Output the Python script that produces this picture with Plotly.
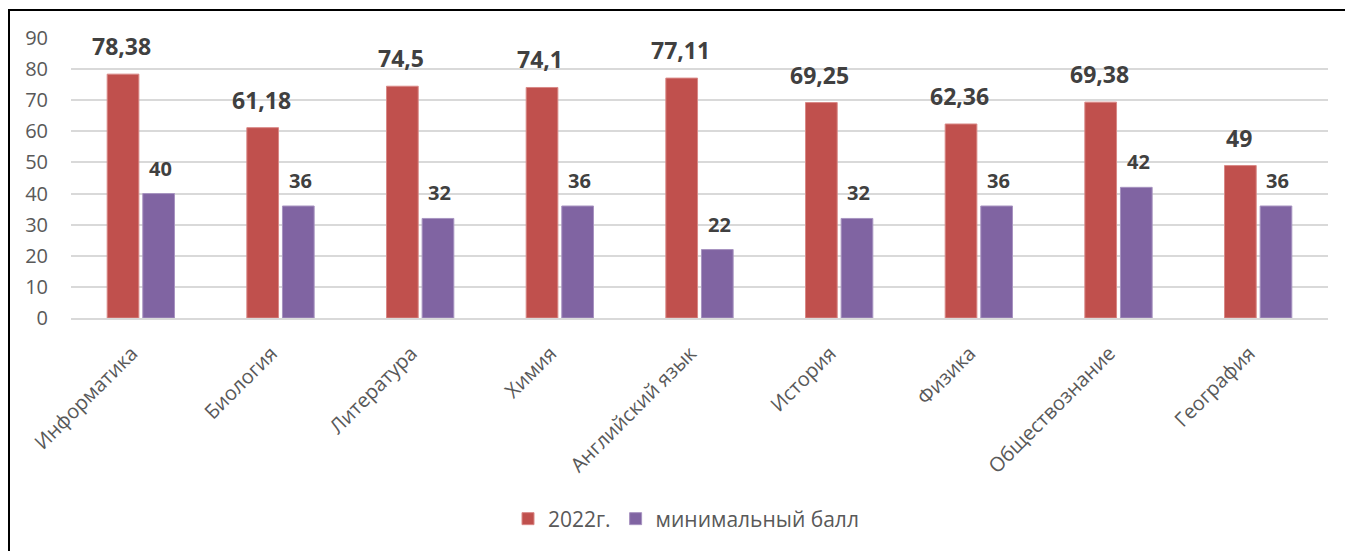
import plotly.graph_objects as go

categories = ["Информатика", "Биология", "Литература", "Химия", "Английский язык",
              "История", "Физика", "Обществознание", "География"]
scores_2022 = [78.38, 61.18, 74.5, 74.1, 77.11, 69.25, 62.36, 69.38, 49]
min_scores = [40, 36, 32, 36, 22, 32, 36, 42, 36]
y_ticks = [0, 10, 20, 30, 40, 50, 60, 70, 80, 90]

RED = "#C0504D"
PURPLE = "#8064A2"
FONT = "Open Sans"

def fmt(v):
    return f"{v:g}".replace(".", ",")

fig = go.Figure()
fig.add_trace(go.Bar(x=categories, y=scores_2022, name="2022г.",
                     marker=dict(color=RED, line=dict(color="#D98886", width=1))))
fig.add_trace(go.Bar(x=categories, y=min_scores, name="минимальный балл",
                     marker=dict(color=PURPLE, line=dict(color="#A793C0", width=1))))

for c, v in zip(categories, scores_2022):
    fig.add_annotation(x=c, y=v, text=fmt(v), showarrow=False, xshift=-19.5,
                       yanchor="bottom", yshift=10,
                       font=dict(family=FONT, size=23, color="#404040", weight="bold"))
for c, v in zip(categories, min_scores):
    fig.add_annotation(x=c, y=v, text=fmt(v), showarrow=False, xshift=19.5,
                       yanchor="bottom", yshift=10,
                       font=dict(family=FONT, size=20, color="#404040", weight="bold"))

# page body has an 8px margin; coordinates below are in figure pixels
OFF = 8
L, R, T, B = 71 - OFF, 1328 - OFF, 38 - OFF, 318 - OFF
W, H = 1353 - OFF, 551 - OFF
pw, ph = R - L, B - T
def px(x):
    return (x - OFF - L) / pw
def py(y):
    return (B - (y - OFF)) / ph

# chart frame: only the left and top edges fall inside the picture
fx0, fx1, fy0, fy1 = px(9), px(1400), py(10), py(600)
fig.add_shape(type="path", xref="paper", yref="paper",
              path=f"M {fx0},{fy1} L {fx0},{fy0} L {fx1},{fy0}",
              line=dict(color="black", width=2), layer="above")

fig.update_layout(
    width=W, height=H,
    margin=dict(l=L, r=W - R, t=T, b=H - B, autoexpand=False),
    paper_bgcolor="white", plot_bgcolor="white",
    barmode="group", bargap=0.49, bargroupgap=0.11,
    font=dict(family=FONT, color="#595959"),
    showlegend=True,
    legend=dict(orientation="h", x=px(686), xanchor="center", y=py(519), yanchor="middle",
                font=dict(family=FONT, size=21, color="#595959"), itemwidth=30),
    xaxis=dict(tickangle=-45, tickfont=dict(family=FONT, size=20, color="#595959"),
               showline=True, linecolor="#D9D9D9", linewidth=1.5, ticks="", showgrid=False,
               ticklabelstandoff=14, ticklabelshift=-9),
    yaxis=dict(range=[0, 90], tickvals=y_ticks, showgrid=True, gridcolor="#D9D9D9",
               gridwidth=1.5, zeroline=False, showline=False, ticks="",
               tickfont=dict(family=FONT, size=20, color="#595959"), ticklabelstandoff=22),
)

fig.write_html("out.html")
